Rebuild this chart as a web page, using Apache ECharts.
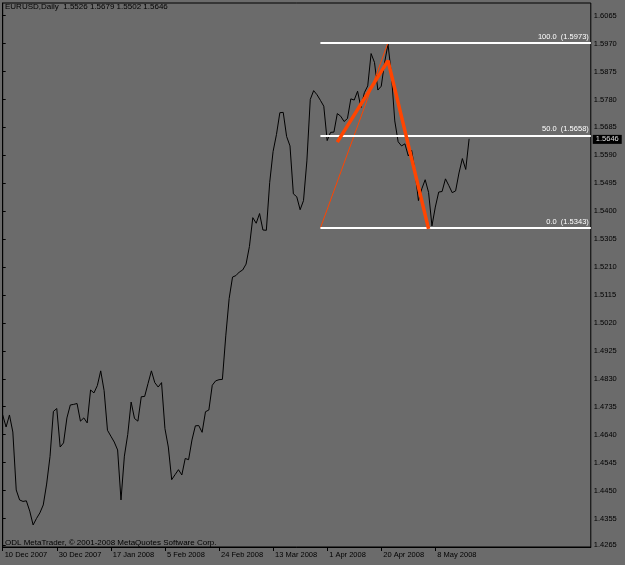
<!DOCTYPE html>
<html><head><meta charset="utf-8">
<script src="https://cdn.jsdelivr.net/npm/echarts@6/dist/echarts.min.js"></script>
<style>html,body{margin:0;padding:0;background:#6b6b6b;}#c{width:625px;height:565px;}</style>
</head><body><div id="c"></div>
<script>
// ---- data ----
const xTickLabels = ['10 Dec 2007','30 Dec 2007','17 Jan 2008','5 Feb 2008','24 Feb 2008','13 Mar 2008','1 Apr 2008','20 Apr 2008','8 May 2008'];
const xTickIndex = [0,16,32,48,64,80,96,112,128];
const yTickValues = [1.6065,1.5970,1.5875,1.5780,1.5685,1.5590,1.5495,1.5400,1.5305,1.5210,1.5115,1.5020,1.4925,1.4830,1.4735,1.4640,1.4545,1.4450,1.4355,1.4265];
const closes = [
1.4707,1.4666,1.4707,1.4649,1.4452,1.4418,1.4413,1.4415,1.4380,1.4333,
1.4355,1.4374,1.4401,1.4472,1.4566,1.4719,1.4729,1.4598,1.4612,1.4697,
1.4741,1.4743,1.4746,1.4686,1.4697,1.4680,1.4792,1.4782,1.4807,1.4857,
1.4790,1.4655,1.4635,1.4615,1.4588,1.4418,1.4567,1.4641,1.4751,1.4695,
1.4686,1.4769,1.4770,1.4814,1.4857,1.4817,1.4802,1.4817,1.4661,1.4598,
1.4487,1.4504,1.4521,1.4503,1.4559,1.4555,1.4622,1.4670,1.4671,1.4648,
1.4718,1.4724,1.4808,1.4823,1.4827,1.4828,1.4976,1.5103,1.5176,1.5181,
1.5193,1.5200,1.5220,1.5280,1.5378,1.5359,1.5392,1.5336,1.5335,1.5498,
1.5603,1.5661,1.5735,1.5736,1.5654,1.5622,1.5459,1.5449,1.5405,1.5436,
1.5571,1.5780,1.5810,1.5796,1.5777,1.5757,1.5640,1.5668,1.5669,1.5732,
1.5723,1.5705,1.5715,1.5782,1.5778,1.5808,1.5752,1.5803,1.5826,1.5936,
1.5906,1.5812,1.5825,1.5906,1.5968,1.5865,1.5707,1.5636,1.5622,1.5629,
1.5588,1.5607,1.5535,1.5436,1.5476,1.5507,1.5464,1.5350,1.5414,1.5465,
1.5467,1.5510,1.5487,1.5463,1.5469,1.5530,1.5579,1.5542,1.5646];
const lastClose = 1.5646;
const headerText = 'EURUSD,Daily  1.5526 1.5679 1.5502 1.5646';
const copyrightText = 'ODL MetaTrader, © 2001-2008 MetaQuotes Software Corp.';
const fibLevels = [100.0, 50.0, 0.0];
const fibPrices = [1.5973, 1.5658, 1.5343];
const fibStartBar = 94;
const fibAnchorBars = [94, 114];
const fibAnchorPrices = [1.5343, 1.5973];
const trendBars = [99, 114, 126];
const trendPrices = [1.5635, 1.5912, 1.5340];
const xMax = 174;
const yMin = 1.4258, yMax = 1.6108;

// ---- chart ----
const FONT = 'Liberation Sans';
const chart = echarts.init(document.getElementById('c'), null, {renderer:'canvas'});
chart.setOption({
  animation:false,
  backgroundColor:'#6b6b6b',
  title:[
    {text:headerText,left:5,top:3,padding:0,textStyle:{fontSize:8,color:'#000',fontWeight:'normal',fontFamily:FONT}},
    {text:copyrightText,left:5,top:539,padding:0,textStyle:{fontSize:8,color:'#000',fontWeight:'normal',fontFamily:FONT}}
  ],
  grid:{left:2.7,right:34.2,top:3,bottom:18,show:true,borderColor:'#000',borderWidth:1,backgroundColor:'transparent',containLabel:false},
  xAxis:{type:'value',min:0,max:xMax,
    axisLine:{show:true,lineStyle:{color:'#000',width:1}},
    axisTick:{show:true,customValues:xTickIndex,length:4,lineStyle:{color:'#000'}},
    axisLabel:{show:true,customValues:xTickIndex,formatter:v=>xTickLabels[Math.round(v/16)]||'',
      align:'left',padding:[0,0,0,2],margin:4,color:'#000',fontSize:7.5,fontFamily:FONT},
    splitLine:{show:false}},
  yAxis:{type:'value',position:'right',min:yMin,max:yMax,
    axisLine:{show:true,lineStyle:{color:'#000',width:1}},
    axisTick:{show:true,customValues:yTickValues,length:3,lineStyle:{color:'#000'}},
    axisLabel:{show:true,customValues:yTickValues,formatter:v=>v.toFixed(4),margin:3,color:'#000',fontSize:7.5,fontFamily:FONT},
    splitLine:{show:false}},
  series:[
    {type:'line',data:closes.map((v,i)=>[i,v]),symbol:'none',lineStyle:{color:'#000',width:1},silent:true,z:3,
     markLine:{silent:true,symbol:['none','none'],animation:false,
       data:[
         ...fibPrices.map((p,k)=>[
           {coord:[fibStartBar,p]},
           {coord:[xMax,p],label:{show:true,position:'insideEndTop',distance:2,
             formatter:fibLevels[k].toFixed(1)+'  ('+p.toFixed(4)+')',color:'#fff',fontSize:7.5,fontFamily:FONT}}
         ]),
         {yAxis:lastClose,lineStyle:{color:'rgba(0,0,0,0)',width:1},
          label:{show:true,position:'end',distance:2,offset:[0,-13],formatter:lastClose.toFixed(4),backgroundColor:'#000',color:'#ddd',padding:[1,3,0,3],fontSize:7.5,fontFamily:FONT}}
       ],
       lineStyle:{color:'#fff',width:2,type:'solid'},
       label:{show:true}
     }},
    {type:'line',data:fibAnchorBars.map((b,i)=>[b,fibAnchorPrices[i]]),symbol:'none',lineStyle:{color:'#FF4500',width:1},silent:true,z:4},
    {type:'line',data:trendBars.map((b,i)=>[b,trendPrices[i]]),symbol:'none',lineStyle:{color:'#FF4500',width:3.5},silent:true,z:5}
  ]
});
</script></body></html>
